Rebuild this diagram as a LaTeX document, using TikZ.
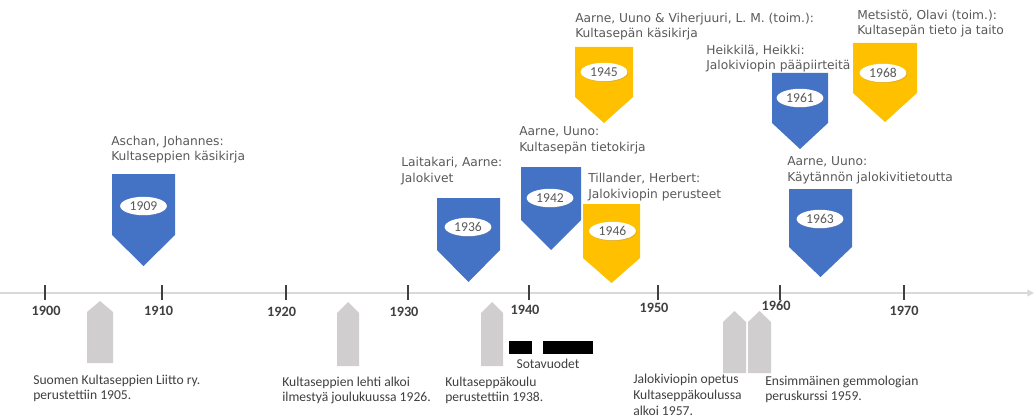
\documentclass[tikz,border=0pt]{standalone}
\usepackage{fontspec}
\setmainfont{DejaVu Sans}
\newfontfamily\cfont{Carlito}
\usetikzlibrary{shapes.geometric,arrows.meta,shadows}
\definecolor{mblue}{HTML}{4472C4}
\definecolor{myel}{HTML}{FFC000}
\definecolor{mgrey}{HTML}{D0CECE}
\definecolor{txtg}{HTML}{595959}
\definecolor{txtd}{HTML}{404040}
\definecolor{axisg}{HTML}{D9D9D9}
% down-pointing pentagon: left, right, top, shoulder, tip, colour
\newcommand{\dnpent}[6]{\fill[#6] (#1,#3) -- (#2,#3) -- (#2,#4) -- ({(#1+#2)/2},#5) -- (#1,#4) -- cycle;}
% up-pointing pentagon: left, right, bottom, shoulder, tip
\newcommand{\uppent}[5]{\fill[mgrey] (#1,#3) -- (#2,#3) -- (#2,#4) -- ({(#1+#2)/2},#5) -- (#1,#4) -- cycle;}
\begin{document}
\begin{tikzpicture}[x=0.75pt,y=-0.75pt,
 toplabel/.style={anchor=west, align=left, inner sep=0pt, text=txtg, font=\fontsize{9.2}{11.8}\selectfont},
 botlabel/.style={anchor=west, align=left, inner sep=0pt, text=txtd, font=\cfont\fontsize{10.2}{11.8}\selectfont},
 yearoval/.style={ellipse, fill=white, minimum width=35pt, minimum height=13.8pt, inner sep=0pt, text=txtg, font=\cfont\fontsize{10.2}{11}\selectfont, drop shadow={opacity=0.25,shadow xshift=0.6pt,shadow yshift=-0.6pt}},
 ticklabel/.style={text=txtd, font=\cfont\bfseries\fontsize{10.7}{12}\selectfont, inner sep=0pt},
 tickmark/.style={draw=txtd, line width=1.1pt},
 warbar/.style={fill=black}]
\useasboundingbox (0,0) rectangle (1034,417);

% axis
\coordinate (axL) at (0,293);
\coordinate (axR) at (1034,293);
\draw[axisg, line width=1.1pt, -{Triangle[length=5pt,width=5pt]}] (axL) -- (axR);

% ticks and labels
\foreach \x/\lx/\ly/\yr in {45/46.2/310.5/1900, 162/158.7/310.5/1910, 286/281.7/312/1920, 408/404/312/1930, 529/525/309.5/1940, 658/654/308/1950, 780/776/306/1960, 904/904/311/1970}{
  \draw[tickmark] (\x,285) -- (\x,300);
  \node[ticklabel] (t\yr) at (\lx,\ly) {\yr};
}

% grey upward markers
\uppent{87}{113}{363}{312}{301}
\uppent{337}{359}{366}{313}{302}
\uppent{481}{503}{366}{313}{302}
\uppent{723}{746}{373}{322}{311}
\uppent{748}{771}{373}{322}{311}

% war years
\fill[warbar] (509,341) rectangle (532,354);
\fill[warbar] (543,341) rectangle (593,354);
\node[botlabel, anchor=center] (sota) at (548,364) {Sotavuodet};

% bottom texts
\node[botlabel] (b1905) at (33,388.5) {Suomen Kultaseppien Liitto ry.\\perustettiin 1905.};
\node[botlabel] (b1926) at (282,390.5) {Kultaseppien lehti alkoi\\ilmestyä joulukuussa 1926.};
\node[botlabel] (b1938) at (445,390.5) {Kultaseppäkoulu\\perustettiin 1938.};
\node[botlabel] (b1957) at (633,395) {Jalokiviopin opetus\\Kultaseppäkoulussa\\alkoi 1957.};
\node[botlabel] (b1959) at (765,389.5) {Ensimmäinen gemmologian\\peruskurssi 1959.};

% down markers
\dnpent{112}{175}{174}{235}{266}{mblue}
\node[yearoval] (y1909) at (143.5,206) {1909};
\node[toplabel] (l1909) at (111,149.5) {Aschan, Johannes:\\Kultaseppien käsikirja};

\dnpent{437}{500}{198}{250}{282}{mblue}
\node[yearoval] (y1936) at (468,227) {1936};
\node[toplabel] (l1936) at (401,171) {Laitakari, Aarne:\\Jalokivet};

\dnpent{521}{581}{167}{220}{250}{mblue}
\node[yearoval] (y1942) at (550,198) {1942};
\node[toplabel] (l1942) at (519,140.5) {Aarne, Uuno:\\Kultasepän tietokirja};

\dnpent{575}{633}{47}{97}{123}{myel}
\node[yearoval] (y1945) at (604,72) {1945};
\node[toplabel] (l1945) at (575,26.5) {Aarne, Uuno \& Viherjuuri, L. M. (toim.):\\Kultasepän käsikirja};

\dnpent{583}{640}{204}{258}{283}{myel}
\node[yearoval] (y1946) at (612.5,231) {1946};
\node[toplabel] (l1946) at (588,187) {Tillander, Herbert:\\Jalokiviopin perusteet};

\dnpent{772}{828}{73}{123}{149}{mblue}
\node[yearoval] (y1961) at (800,98) {1961};
\node[toplabel] (l1961) at (706,58.5) {Heikkilä, Heikki:\\Jalokiviopin pääpiirteitä};

\dnpent{789}{852}{189}{247}{277}{mblue}
\node[yearoval] (y1963) at (820,219) {1963};
\node[toplabel] (l1963) at (787,170.5) {Aarne, Uuno:\\Käytännön jalokivitietoutta};

\dnpent{853}{917}{43}{93}{122}{myel}
\node[yearoval] (y1968) at (883,73) {1968};
\node[toplabel] (l1968) at (857,23.5) {Metsistö, Olavi (toim.):\\Kultasepän tieto ja taito};
\end{tikzpicture}
\end{document}
